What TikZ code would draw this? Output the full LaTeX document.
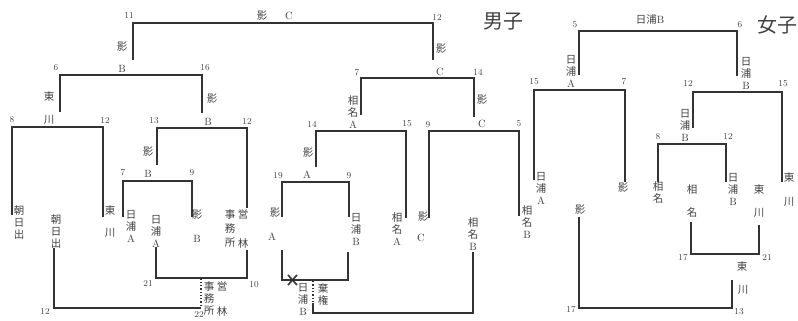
\documentclass[tikz,border=0pt]{standalone}
\usepackage{fontspec}
\newfontfamily\jpfont{Noto Sans CJK JP}
\newcommand\J[1]{{\jpfont #1}}

\begin{document}
\begin{tikzpicture}[x=1pt,y=-1pt,
  bline/.style={line width=1.4pt,draw=black!80},
  dline/.style={line width=1.3pt,draw=black!80,dotted},
  num/.style={font=\fontsize{9}{10}\selectfont,text=black!75,inner sep=0pt},
  lab/.style={font=\fontsize{10.5}{12}\selectfont,text=black!75,inner sep=0pt,align=center},
  big/.style={font=\fontsize{20}{22}\selectfont\jpfont,text=black!75,inner sep=0pt}]

\useasboundingbox (0,0) rectangle (798,321);

% Títulos
\node[big] (men) at (503,21) {男子};
\node[big] (women) at (777,25) {女子};

% Líneas del cuadro masculino
\draw[bline] (133,60) -- (133,23) -- (433,23) -- (433,60);
\draw[bline] (60,112) -- (60,75) -- (202,75) -- (202,113);
\draw[bline] (361,115) -- (361,78) -- (474,78) -- (474,117);
\draw[bline] (12,215) -- (12,127) -- (103,127) -- (103,217);
\draw[bline] (157,165) -- (157,128) -- (247,128) -- (247,208);
\draw[bline] (123,217) -- (123,181) -- (192,181) -- (192,217);
\draw[bline] (316,167) -- (316,131) -- (406,131) -- (406,218);
\draw[bline] (429,218) -- (429,131) -- (519,131) -- (519,216);
\draw[bline] (282,217) -- (282,182) -- (349,182) -- (349,217);

% Cuadro inferior masculino
\draw[bline] (156,247) -- (156,278) -- (247,278) -- (247,250);
\draw[bline] (54,248) -- (54,308) -- (201,308);
\draw[dline] (201,306) -- (201,279);
\draw[bline] (282,250) -- (282,280) -- (348,280) -- (348,252);
\draw[dline] (313,281) -- (313,302);
\draw[bline] (313,303) -- (313,313) -- (473,313) -- (473,252);
\draw[line width=1.6pt,draw=black!80] (288,275) -- (297,285) (288,285) -- (297,275);

% Líneas del cuadro femenino
\draw[bline] (579,75) -- (579,31) -- (737,31) -- (737,76);
\draw[bline] (534,180) -- (534,90) -- (625,90) -- (625,182);
\draw[bline] (693,128) -- (693,92) -- (782,92) -- (782,182);
\draw[bline] (658,182) -- (658,144) -- (726,144) -- (726,182);
\draw[bline] (691,222) -- (691,254) -- (759,254) -- (759,225);
\draw[bline] (579,217) -- (579,308) -- (732,308) -- (732,280);

% Números (masculino)
\node[num] (n1) at (129,16) {11};
\node[num] (n2) at (437,18) {12};
\node[num] (n3) at (56,68) {6};
\node[num] (n4) at (205,68) {16};
\node[num] (n5) at (357,73) {7};
\node[num] (n6) at (478,72) {14};
\node[num] (n7) at (12,120) {8};
\node[num] (n8) at (105,121) {12};
\node[num] (n9) at (154,121) {13};
\node[num] (n10) at (247,122) {12};
\node[num] (n11) at (312,124) {14};
\node[num] (n12) at (407,124) {15};
\node[num] (n13) at (428,125) {9};
\node[num] (n14) at (519,124) {5};
\node[num] (n15) at (123,173) {7};
\node[num] (n16) at (192,173) {9};
\node[num] (n17) at (278,176) {19};
\node[num] (n18) at (349,176) {9};
\node[num] (n19) at (148,284) {21};
\node[num] (n20) at (254,285) {10};
\node[num] (n21) at (45,312) {12};
\node[num] (n22) at (199,315) {22};

% Números (femenino)
\node[num] (w1) at (575,25) {5};
\node[num] (w2) at (740,25) {6};
\node[num] (w3) at (534,82) {15};
\node[num] (w4) at (624,82) {7};
\node[num] (w5) at (688,84) {12};
\node[num] (w6) at (783,84) {15};
\node[num] (w7) at (658,137) {8};
\node[num] (w8) at (728,137) {12};
\node[num] (w9) at (683,258) {17};
\node[num] (w10) at (767,258) {21};
\node[num] (w11) at (571,310) {17};
\node[num] (w12) at (739,312) {13};

% Nombres (masculino)
\node[lab] (a1) at (262,16) {\J{影}};
\node[lab] (a2) at (289,16) {C};
\node[lab] (a3) at (122,47) {\J{影}};
\node[lab] (a4) at (441,49) {\J{影}};
\node[lab] (a5) at (122,69) {B};
\node[lab] (a6) at (49,97) {\J{東}};
\node[lab] (a7) at (49,120) {\J{川}};
\node[lab] (a8) at (212,99) {\J{影}};
\node[lab] (a9) at (353,112) {\J{相}\\\J{名}\\A};
\node[lab] (a10) at (440,72) {C};
\node[lab] (a11) at (482,100) {\J{影}};
\node[lab] (a12) at (208,122) {B};
\node[lab] (a13) at (148,152) {\J{影}};
\node[lab] (a14) at (148,174) {B};
\node[lab] (a15) at (307,175) {A};
\node[lab] (a16) at (482,124) {C};
\node[lab] (a17) at (308,153) {\J{影}};

% Primera ronda (masculino)
\node[lab] (b1) at (19,223) {\J{朝}\\\J{日}\\\J{出}};
\node[lab] (b2) at (110,211) {\J{東}};
\node[lab] (b3) at (110,233) {\J{川}};
\node[lab] (b4) at (131,226) {\J{日}\\\J{浦}\\A};
\node[lab] (b5) at (156,231) {\J{日}\\\J{浦}\\A};
\node[lab] (b6) at (197,215) {\J{影}};
\node[lab] (b7) at (197,239) {B};
\node[lab] (b8) at (230,229) {\J{事}\\[2pt]\J{務}\\[2pt]\J{所}};
\node[lab] (b9) at (243,215) {\J{営}};
\node[lab] (b10) at (243,243) {\J{林}};
\node[lab] (b11) at (56,232) {\J{朝}\\\J{日}\\\J{出}};
\node[lab] (b12) at (275,213) {\J{影}};
\node[lab] (b13) at (272,237) {A};
\node[lab] (b14) at (356,229) {\J{日}\\\J{浦}\\B};
\node[lab] (b15) at (397,229) {\J{相}\\\J{名}\\A};
\node[lab] (b16) at (423,217) {\J{影}};
\node[lab] (b17) at (421,238) {C};
\node[lab] (b18) at (527,222) {\J{相}\\\J{名}\\B};
\node[lab] (b19) at (473,234) {\J{相}\\\J{名}\\B};

% Cuadro inferior (masculino)
\node[lab] (c1) at (209,299) {\J{事}\\\J{務}\\\J{所}};
\node[lab] (c2) at (222,287) {\J{営}};
\node[lab] (c3) at (222,311) {\J{林}};
\node[lab] (c4) at (303,299) {\J{日}\\\J{浦}\\B};
\node[lab] (c5) at (323,295) {\J{棄}\\\J{権}};

% Nombres (femenino)
\node[lab] (d1) at (650,20) {\J{日浦}B};
\node[lab] (d2) at (571,71) {\J{日}\\\J{浦}\\A};
\node[lab] (d3) at (746,73) {\J{日}\\\J{浦}\\B};
\node[lab] (d4) at (685,125) {\J{日}\\\J{浦}\\B};
\node[lab] (d5) at (541,188) {\J{日}\\\J{浦}\\A};
\node[lab] (d6) at (623,188) {\J{影}};
\node[lab] (d7) at (658,193) {\J{相}\\\J{名}};
\node[lab] (d8) at (733,189) {\J{日}\\\J{浦}\\B};
\node[lab] (d9) at (789,178) {\J{東}};
\node[lab] (d10) at (789,202) {\J{川}};
\node[lab] (d12) at (580,210) {\J{影}};
\node[lab] (d13) at (692,190) {\J{相}};
\node[lab] (d14) at (692,213) {\J{名}};
\node[lab] (d15) at (759,190) {\J{東}};
\node[lab] (d16) at (759,213) {\J{川}};
\node[lab] (d17) at (742,267) {\J{東}};
\node[lab] (d18) at (743,290) {\J{川}};

\end{tikzpicture}
\end{document}
